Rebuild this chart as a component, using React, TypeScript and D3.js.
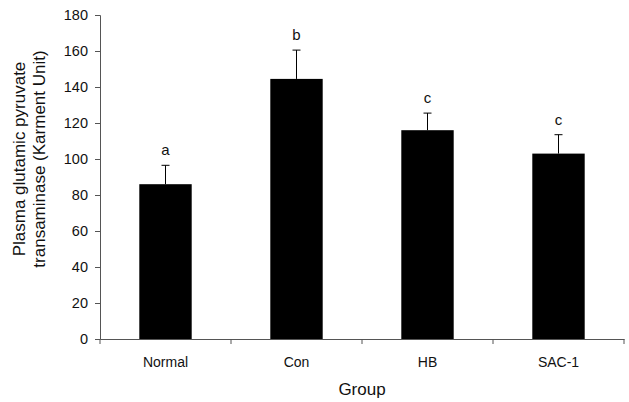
import React, { useEffect, useRef } from 'react';
import * as d3 from 'd3';

const groups = ['Normal', 'Con', 'HB', 'SAC-1'];
const means = [86, 144.5, 116, 103];
const errors = [10.5, 16, 9.5, 10.5];
const letters = ['a', 'b', 'c', 'c'];
const yTicks = [0, 20, 40, 60, 80, 100, 120, 140, 160, 180];

const App = () => {
  const svgRef = useRef<SVGSVGElement>(null);
  const width = 629;
  const height = 402;
  const left = 100;
  const right = 624;

  useEffect(() => {
    const svg = d3.select(svgRef.current);
    svg.selectAll('*').remove();

    const x = d3.scaleBand().domain(groups).range([left, right]).padding(0);
    const y = d3.scaleLinear().domain([0, 180]).range([339, 15]);
    const barW = x.bandwidth() * 0.4;
    const font = 'Liberation Sans, Arial, sans-serif';

    const g = svg.append('g');

    // bars
    g.selectAll('rect.bar')
      .data(groups)
      .join('rect')
      .attr('class', 'bar')
      .attr('x', d => x(d)! + x.bandwidth() / 2 - barW / 2)
      .attr('y', (d, i) => y(means[i]))
      .attr('width', barW)
      .attr('height', (d, i) => y(0) - y(means[i]))
      .attr('fill', '#000');

    // error bars + letters
    groups.forEach((d, i) => {
      const cx = x(d)! + x.bandwidth() / 2;
      const top = y(means[i] + errors[i]);
      g.append('line')
        .attr('x1', cx).attr('x2', cx)
        .attr('y1', y(means[i])).attr('y2', top)
        .attr('stroke', '#000').attr('stroke-width', 1);
      g.append('line')
        .attr('x1', cx - 4).attr('x2', cx + 4)
        .attr('y1', top).attr('y2', top)
        .attr('stroke', '#000').attr('stroke-width', 1);
      g.append('text')
        .attr('x', cx)
        .attr('y', top - 10)
        .attr('text-anchor', 'middle')
        .attr('font-family', font)
        .attr('font-size', 15)
        .attr('fill', '#111')
        .text(letters[i]);
    });

    // y axis
    const yAxis = svg.append('g')
      .attr('transform', `translate(${left},0)`)
      .call(d3.axisLeft(y).tickValues(yTicks).tickSize(5).tickPadding(7));
    yAxis.select('.domain').attr('stroke', '#555');
    yAxis.selectAll('.tick line').attr('stroke', '#555');
    yAxis.selectAll('.tick text')
      .attr('font-family', font).attr('font-size', 14.5).attr('fill', '#111');

    // x axis
    const xAxis = svg.append('g')
      .attr('transform', `translate(0,${y(0)})`)
      .call(d3.axisBottom(x).tickSize(0).tickPadding(18));
    xAxis.select('.domain').attr('stroke', '#555');
    xAxis.selectAll('.tick text')
      .attr('font-family', font).attr('font-size', 14).attr('fill', '#111');
    // category boundary ticks
    xAxis.selectAll('line.sep')
      .data(groups)
      .join('line')
      .attr('class', 'sep')
      .attr('x1', d => x(d)!).attr('x2', d => x(d)!)
      .attr('y1', 0).attr('y2', 5)
      .attr('stroke', '#555');
    xAxis.append('line')
      .attr('x1', right).attr('x2', right).attr('y1', 0).attr('y2', 5)
      .attr('stroke', '#555');

    // axis titles
    svg.append('text')
      .attr('x', (left + right) / 2)
      .attr('y', 395)
      .attr('text-anchor', 'middle')
      .attr('font-family', font).attr('font-size', 17).attr('fill', '#111')
      .text('Group');

    const yt = svg.append('text')
      .attr('transform', `translate(0,159) rotate(-90)`)
      .attr('text-anchor', 'middle')
      .attr('font-family', font).attr('font-size', 17).attr('fill', '#111');
    yt.append('tspan').attr('x', 0).attr('y', 25).text('Plasma glutamic pyruvate');
    yt.append('tspan').attr('x', 0).attr('y', 45).text('transaminase (Karment Unit)');
  }, []);

  return (
    <svg ref={svgRef} width={width} height={height}
      style={{ position: 'absolute', left: 0, top: 0, background: '#fff' }} />
  );
};

export default App;
